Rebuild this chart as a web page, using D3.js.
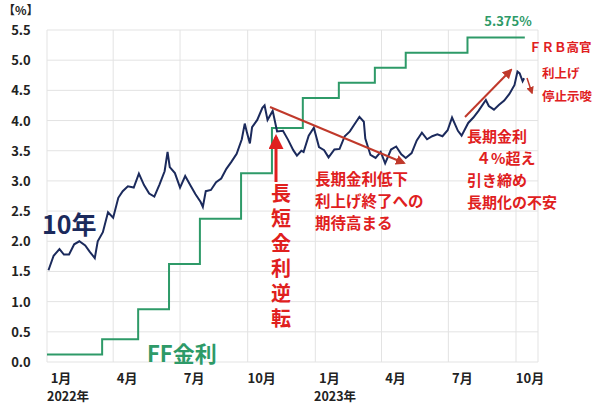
<!DOCTYPE html><html><head><meta charset="utf-8"><script src="https://d3js.org/d3.v7.min.js"></script>
<style>body{margin:0;background:#fff}text{font-family:"Noto Sans CJK JP","Noto Sans",sans-serif}</style></head><body><svg id="c" width="600" height="405"></svg><script>
const yTicks=[0,0.5,1,1.5,2,2.5,3,3.5,4,4.5,5,5.5];
const monthLabels=["1月","4月","7月","10月","1月","4月","7月","10月"];
const tenYDates=["2022-01-03","2022-01-10","2022-01-18","2022-01-24","2022-01-31","2022-02-07","2022-02-14","2022-02-22","2022-02-28","2022-03-07","2022-03-11","2022-03-18","2022-03-25","2022-04-01","2022-04-08","2022-04-14","2022-04-21","2022-04-29","2022-05-06","2022-05-13","2022-05-20","2022-05-27","2022-06-03","2022-06-10","2022-06-14","2022-06-17","2022-06-24","2022-07-01","2022-07-08","2022-07-15","2022-07-22","2022-07-29","2022-08-01","2022-08-05","2022-08-12","2022-08-19","2022-08-26","2022-09-02","2022-09-09","2022-09-16","2022-09-23","2022-09-27","2022-09-30","2022-10-04","2022-10-07","2022-10-14","2022-10-21","2022-10-24","2022-10-28","2022-11-04","2022-11-10","2022-11-18","2022-11-25","2022-12-02","2022-12-07","2022-12-13","2022-12-16","2022-12-23","2022-12-30","2023-01-06","2023-01-13","2023-01-19","2023-01-27","2023-02-03","2023-02-10","2023-02-17","2023-02-24","2023-03-02","2023-03-08","2023-03-10","2023-03-17","2023-03-24","2023-03-31","2023-04-06","2023-04-14","2023-04-21","2023-04-28","2023-05-04","2023-05-12","2023-05-19","2023-05-26","2023-06-02","2023-06-09","2023-06-16","2023-06-23","2023-06-30","2023-07-06","2023-07-14","2023-07-19","2023-07-28","2023-08-04","2023-08-11","2023-08-21","2023-08-25","2023-09-01","2023-09-08","2023-09-15","2023-09-22","2023-09-29","2023-10-03","2023-10-06","2023-10-10","2023-10-12"];
const tenYValues=[1.52,1.76,1.87,1.78,1.78,1.95,2.0,1.93,1.83,1.72,2.0,2.15,2.48,2.39,2.72,2.83,2.91,2.89,3.12,2.93,2.79,2.74,2.94,3.16,3.48,3.23,3.13,2.89,3.08,2.93,2.78,2.65,2.57,2.83,2.85,2.98,3.04,3.2,3.32,3.45,3.69,3.95,3.8,3.62,3.89,4.01,4.21,4.25,4.01,4.16,3.82,3.83,3.68,3.51,3.42,3.5,3.48,3.75,3.88,3.56,3.51,3.39,3.52,3.53,3.74,3.82,3.95,4.06,3.98,3.7,3.43,3.38,3.48,3.29,3.52,3.57,3.44,3.38,3.46,3.67,3.8,3.69,3.74,3.77,3.74,3.84,4.05,3.83,3.75,3.96,4.05,4.16,4.34,4.24,4.18,4.26,4.33,4.44,4.59,4.81,4.78,4.65,4.7];
const ffDates=["2022-01-01","2022-03-17","2022-05-05","2022-06-16","2022-07-28","2022-09-22","2022-11-03","2022-12-15","2023-02-02","2023-03-23","2023-05-04","2023-07-27","2023-10-13"];
const ffValues=[0.125,0.375,0.875,1.625,2.375,3.125,3.875,4.375,4.625,4.875,5.125,5.375,5.375];
const P=d3.timeParse("%Y-%m-%d");
const svg=d3.select("#c");
const x=d3.scaleTime().domain([P("2022-01-01"),P("2023-10-01")]).range([47,516]);
const y=d3.scaleLinear().domain([0,5.5]).range([362,30]);
const g=svg.append("g");
yTicks.forEach(t=>{g.append("line").attr("x1",47).attr("x2",538).attr("y1",y(t)).attr("y2",y(t)).attr("stroke","#e3e3e3");
 svg.append("text").attr("x",21).attr("y",y(t)+5).attr("text-anchor","middle").attr("font-size",13).attr("font-weight","bold").attr("fill","#222").text(t.toFixed(1));});
const qs=d3.timeMonth.every(3).range(P("2022-01-01"),P("2023-10-02"));
qs.forEach((d,i)=>{g.append("line").attr("x1",x(d)).attr("x2",x(d)).attr("y1",30).attr("y2",362).attr("stroke","#e3e3e3");
 svg.append("text").attr("x",x(d)+14).attr("y",383).attr("text-anchor","middle").attr("font-size",13).attr("font-weight","bold").attr("fill","#222").text(monthLabels[i]);});
g.append("line").attr("x1",538).attr("x2",538).attr("y1",30).attr("y2",362).attr("stroke","#e3e3e3");
svg.append("text").attr("x",47).attr("y",401).attr("font-size",12.5).attr("font-weight","bold").attr("fill","#222").text("2022年");
svg.append("text").attr("x",314).attr("y",401).attr("font-size",12.5).attr("font-weight","bold").attr("fill","#222").text("2023年");
svg.append("text").attr("x",3).attr("y",15).attr("font-size",12).attr("font-weight","bold").attr("fill","#222").text("【%】");
const ff=ffDates.map((d,i)=>[P(d),ffValues[i]]);
svg.append("path").attr("d",d3.line().curve(d3.curveStepAfter).x(d=>x(d[0])).y(d=>y(d[1]))(ff)).attr("fill","none").attr("stroke","#2e9a68").attr("stroke-width",2);
const ty=tenYDates.map((d,i)=>[P(d),tenYValues[i]]);
svg.append("path").attr("d",d3.line().x(d=>x(d[0])).y(d=>y(d[1]))(ty)).attr("fill","none").attr("stroke","#1b2a5c").attr("stroke-width",2);
const defs=svg.append("defs");
[["ah1","#c0392b"],["ah2","#e02020"]].forEach(([id,c])=>defs.append("marker").attr("id",id).attr("viewBox","0 0 10 10").attr("refX",8).attr("refY",5).attr("markerWidth",5).attr("markerHeight",5).attr("orient","auto").append("path").attr("d","M0,0L10,5L0,10z").attr("fill",c));
function arr(x1,y1,x2,y2,id,w,c){svg.append("line").attr("x1",x1).attr("y1",y1).attr("x2",x2).attr("y2",y2).attr("stroke",c).attr("stroke-width",w).attr("marker-end","url(#"+id+")");}
arr(270,107,404,163,"ah1",2,"#c0392b");
arr(276,182,276,137,"ah2",3,"#e02020");
arr(465,117,511,70,"ah1",2,"#c0392b");
arr(527,78,532,93,"ah1",1.5,"#c0392b");
const red="#e0201e";
function txt(s,xx,yy,fs,c,anchor){return svg.append("text").attr("x",xx).attr("y",yy).attr("font-size",fs).attr("font-weight","bold").attr("fill",c).attr("text-anchor",anchor||"start").text(s);}
function block(lines,fs,c){const t=svg.append("text").attr("font-size",fs).attr("font-weight","bold").attr("fill",c);
 lines.forEach(([s,xx,yy])=>t.append("tspan").attr("x",xx).attr("y",yy).text(s));}
txt("長短金利逆転",281,183,20,red).attr("writing-mode","vertical-rl").attr("letter-spacing",5);
block([["長期金利低下",315,185],["利上げ終了への",315,207],["期待高まる",315,229]],15.5,red);
block([["長期金利",467,142],["４%超え",476,164],["引き締め",467,186],["長期化の不安",467,208]],15,red);
block([["ＦＲＢ高官",529,52],["利上げ",542,78],["停止示唆",542,101]],12.5,red);
txt("5.375%",508,26,13,"#2e9a68","middle");
txt("10年",42,234,25,"#1b2a5c");
txt("FF金利",147,362,22,"#2e9a68");
</script></body></html>
